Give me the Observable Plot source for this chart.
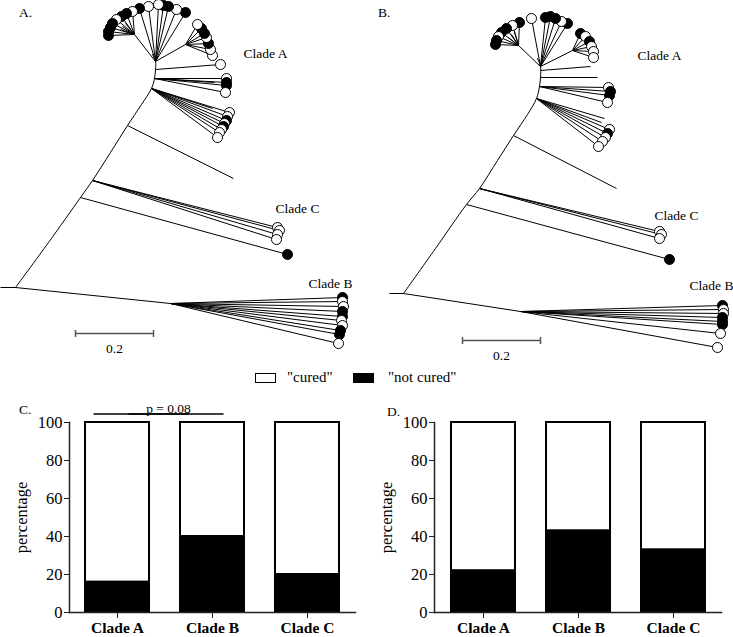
<!DOCTYPE html>
<html><head><meta charset="utf-8">
<script src="https://cdn.jsdelivr.net/npm/d3@7"></script>
<script src="https://cdn.jsdelivr.net/npm/@observablehq/plot@0.6"></script>
<style>
body{margin:0;background:#fff;}
#fig{position:relative;width:733px;height:637px;overflow:hidden;font-family:"Liberation Serif","Times New Roman",serif;color:#000;background:#fff;}
.abs{position:absolute;line-height:1;white-space:nowrap;}
.box{position:absolute;width:19px;height:8px;border:1.5px solid #000;}
</style></head><body><div id="fig"></div>
<script>
const FONT = '"Liberation Serif","Times New Roman",serif';

// ---------- bar chart data ----------
const clades = ["Clade A", "Clade B", "Clade C"];
const notCuredC = [16, 40, 20];
const notCuredD = [22, 43, 33];
const yTicks = [0, 20, 40, 60, 80, 100];
const pLabel = "p = 0.08";
const pValueY = 104.5;
const legendLabels = ['"cured"', '"not cured"'];
const panelLetters = ["A.", "B.", "C.", "D."];
const scaleLabel = "0.2";
const scaleLength = 0.2;

// ---------- tree A layout (node coordinates in layout units) ----------
const nodesA = {R0:[0,287], R:[15,287], B:[170,303], C1:[80,197], C2:[92,180], C3:[127,125],
  A1:[151,88], A2:[154,78], A3:[155,69], T:[155,61], TR:[185,44], TL:[134,34]};
const backboneA = [[15,287],[48,242],[80,197],[92,180],[110,152],[127,125],[141,104],[151,88],[154,78],[155,69],[155,61],[152,54]];
const innerA = [["R0","R"],["R","B"],["T","TR"],["T","TL"]];
// [parent, x, y, status] status: 1 = "not cured", 0 = "cured", null = no symbol
const leavesA = [
  ["B",342,297,1],["B",342,301,0],["B",343,306,0],["B",342,311,1],["B",342,316,1],["B",341,320,0],["B",342,325,0],["B",340,330,1],["B",339,334,1],["B",338,343,0],
  ["C2",277,227,0],["C2",279,230,0],["C2",277,234,0],["C2",276,239,0],["C1",287,254,1],["C3",233,178,null],
  ["A1",229,112,0],["A1",227,116,0],["A1",226,120,1],["A1",224,123,0],["A1",223,126,1],["A1",221,129,0],["A1",219,132,0],["A1",217,137,0],["A1",212,108,null],
  ["A2",226,78,0],["A2",226,82,1],["A2",226,85,1],["A2",225,92,0],["A2",214,82,null],
  ["A3",220,64,0],
  ["TR",212,55,0],["TR",210,49,0],["TR",208,43,1],["TR",206,37,0],["TR",204,33,1],["TR",201,28,1],["TR",197,24,0],
  ["T",185,12,1],["T",176,9,0],["T",168,6,1],["T",163,5,1],["T",158,4,0],["T",148,6,0],["T",139,8,1],
  ["TL",132,11,0],["TL",126,13,1],["TL",121,16,1],["TL",116,19,0],["TL",112,23,1],["TL",110,27,1],["TL",108,31,1],["TL",108,35,1],
  ["TL",120,29,null],["TL",122,26,null],["TL",125,23,null]
];
const cladeLabelsA = [{t:"Clade A", x:265, y:53},{t:"Clade C", x:297, y:208},{t:"Clade B", x:330, y:283}];
const scaleBarA = {x:75, y:333};

// ---------- tree B layout ----------
const nodesB = {R0:[389,293], R:[403,293], B:[520,311], C1:[466,204], C2:[479,188], C3:[513,135],
  A1:[536,98], A2:[539,86], A3:[540,77], A4:[540,70], T:[540,66], TR:[572,50], TL:[518,45]};
const backboneB = [[403,293],[435,248],[466,204],[479,188],[497,160],[513,135],[527,114],[536,98],[539,86],[540,77],[540,66],[537,58]];
const innerB = [["R0","R"],["R","B"],["T","TR"],["T","TL"]];
const leavesB = [
  ["B",722,305,1],["B",723,309,0],["B",723,313,0],["B",722,317,1],["B",722,321,1],["B",722,324,1],["B",720,333,0],["B",717,347,0],
  ["C2",659,231,0],["C2",661,234,0],["C2",659,238,0],["C1",669,259,1],["C3",616,188,null],
  ["A1",609,129,0],["A1",607,133,1],["A1",605,137,0],["A1",602,141,0],["A1",598,146,0],["A1",604,118,null],["A1",601,122,null],
  ["A2",608,87,0],["A2",610,91,1],["A2",609,95,1],["A2",607,102,0],
  ["A3",597,77,null],["A4",590,66,null],
  ["TR",580,33,1],["TR",585,36,0],["TR",589,41,1],["TR",591,46,0],["TR",593,51,0],["TR",593,57,0],
  ["T",567,23,1],["T",561,21,0],["T",555,18,1],["T",550,16,1],["T",545,17,1],["T",531,18,0],
  ["TL",519,22,1],["TL",512,25,0],["TL",506,28,1],["TL",501,32,1],["TL",498,36,0],["TL",496,40,1],["TL",495,44,1],
  ["TL",508,37,null],["TL",511,34,null],["TL",514,31,null]
];
const cladeLabelsB = [{t:"Clade A", x:659, y:55},{t:"Clade C", x:676, y:215},{t:"Clade B", x:711, y:285}];
const scaleBarB = {x:462, y:340};
const unitsPerBranch = 390; // layout units per unit branch length

function drawTree(nodes, backbone, inner, leaves, labels, bar, x0, w, h) {
  const links = [
    ...inner.map(([a,b]) => ({x1:nodes[a][0], y1:nodes[a][1], x2:nodes[b][0], y2:nodes[b][1]})),
    ...leaves.map(([p,x,y]) => ({x1:nodes[p][0], y1:nodes[p][1], x2:x, y2:y}))
  ];
  const tips = leaves.filter(d => d[3] !== null).map(([p,x,y,s]) => ({x, y, s}));
  const barEnd = bar.x + scaleLength * unitsPerBranch;
  const sb = [{x1:bar.x, x2:barEnd, y1:bar.y, y2:bar.y}, {x1:bar.x, x2:bar.x, y1:bar.y-3.5, y2:bar.y+3.5}, {x1:barEnd, x2:barEnd, y1:bar.y-3.5, y2:bar.y+3.5}];
  return Plot.plot({
    width:w, height:h, margin:0,
    style:{background:"transparent", fontFamily:FONT},
    x:{domain:[x0, x0+w], range:[0,w], axis:null},
    y:{domain:[0,h], range:[0,h], axis:null},
    marks:[
      Plot.line(backbone, {x:d=>d[0], y:d=>d[1], curve:"catmull-rom", stroke:"#000", strokeWidth:1}),
      Plot.link(links, {x1:"x1", y1:"y1", x2:"x2", y2:"y2", stroke:"#000", strokeWidth:1}),
      Plot.dot(tips, {x:"x", y:"y", r:5, fill:d => d.s ? "#000" : "#fff", stroke:"#000", strokeWidth:1}),
      Plot.text(labels, {x:"x", y:"y", text:"t", fontSize:13.5, fill:"#000", fontFamily:FONT}),
      Plot.link(sb, {x1:"x1", y1:"y1", x2:"x2", y2:"y2", stroke:"#555", strokeWidth:1.5}),
      Plot.text([scaleLabel], {x:(bar.x+barEnd)/2, y:bar.y+15, text:d=>d, fontSize:13.5, fill:"#000", fontFamily:FONT})
    ]
  });
}

function drawBars(values, w, ml, mr, withP) {
  const data = clades.map((c,i) => ({clade:c, v:values[i]}));
  const marks = [
    Plot.barY(data, {x:"clade", y1:0, y2:100, fill:"#fff", stroke:"#000", strokeWidth:2}),
    Plot.barY(data, {x:"clade", y1:0, y2:"v", fill:"#000", stroke:"#000", strokeWidth:2}),
    Plot.frame({anchor:"left", stroke:"#222", strokeWidth:1.5}),
    Plot.frame({anchor:"bottom", stroke:"#222", strokeWidth:1.5}),
    Plot.axisY({ticks:yTicks, tickSize:5, tickPadding:2, fontSize:16.5, fontFamily:FONT, stroke:"#222",
      label:"percentage", labelAnchor:"center", labelOffset:54, labelArrow:"none"}),
    Plot.axisX({tickSize:6, tickPadding:3, fontSize:15.5, fontWeight:"bold", fontFamily:FONT, stroke:"#222", label:null})
  ];
  if (withP) {
    const pd = [{a:clades[0], b:clades[1], y:pValueY}];
    marks.push(
      Plot.link(pd, {x1:"a", x2:"b", y1:"y", y2:"y", dx:-24, stroke:"#000", strokeWidth:1.5}),
      Plot.link(pd, {x1:"a", x2:"b", y1:"y", y2:"y", dx:11, stroke:"#000", strokeWidth:1.5}),
      Plot.text(pd, {x:"a", y:"y", dx:51, dy:-1, text:()=>pLabel, lineAnchor:"bottom", fontSize:13.5, fontFamily:FONT, fill:"#000"})
    );
  }
  return Plot.plot({
    width:w, height:242, marginLeft:ml, marginRight:mr, marginTop:27, marginBottom:25,
    style:{background:"transparent", fontFamily:FONT, fontSize:"16px", color:"#000", overflow:"visible"},
    x:{domain:clades, paddingInner:0.33, paddingOuter:0.165, label:null},
    y:{domain:[0,100], label:"percentage"},
    marks
  });
}

const fig = document.getElementById("fig");
function place(el, left, top) { el.style.position = "absolute"; el.style.left = left+"px"; el.style.top = top+"px"; fig.appendChild(el); }

place(drawTree(nodesA, backboneA, innerA, leavesA, cladeLabelsA, scaleBarA, 0, 366, 368), 0, 0);
place(drawTree(nodesB, backboneB, innerB, leavesB, cladeLabelsB, scaleBarB, 366, 367, 368), 366, 0);
place(drawBars(notCuredC, 366, 69, 11, true), 0, 395);
place(drawBars(notCuredD, 367, 68, 12, false), 366, 395);

function addText(t, left, top, size, extra) {
  const d = document.createElement("div"); d.className = "abs"; d.textContent = t;
  d.style.fontSize = size+"px"; if (extra) Object.assign(d.style, extra);
  place(d, left, top); return d;
}
addText(panelLetters[0], 19, 6, 13.5);
addText(panelLetters[1], 378, 6, 13.5);
addText(panelLetters[2], 19, 403, 13.5);
addText(panelLetters[3], 387, 405, 13.5);

// legend
const b1 = document.createElement("div"); b1.className = "box"; b1.style.background = "#fff"; place(b1, 255, 373);
const b2 = document.createElement("div"); b2.className = "box"; b2.style.background = "#000"; place(b2, 353, 373);
addText(legendLabels[0], 287, 370, 15);
addText(legendLabels[1], 388, 370, 15);
</script></body></html>
